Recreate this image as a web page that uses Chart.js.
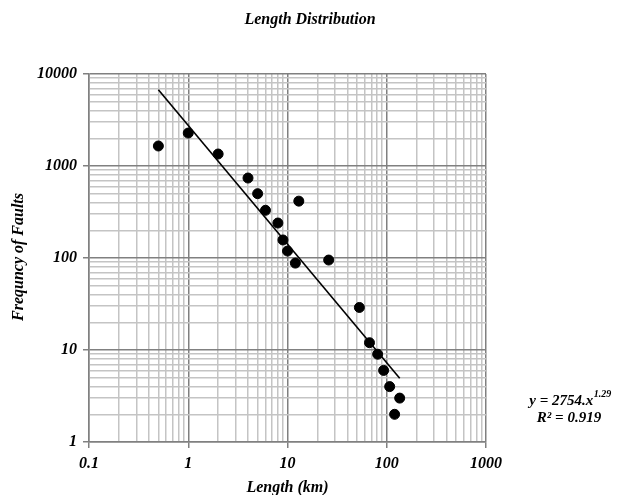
<!DOCTYPE html>
<html>
<head>
<meta charset="utf-8">
<script src="https://cdn.jsdelivr.net/npm/chart.js@4/dist/chart.umd.min.js"></script>
<style>
  html, body { margin: 0; padding: 0; background: #fff; }
  #wrap { width: 622px; height: 495px; position: relative; }
</style>
</head>
<body>
<div id="wrap"><canvas id="c" width="622" height="495"></canvas></div>
<script>
// ---- data ----
const lengthKm = [0.5, 1, 2, 4, 5, 6, 8, 9, 10, 12, 13, 26, 53, 67, 81, 93, 107, 135, 120];
const faultCount = [1650, 2280, 1350, 740, 500, 330, 240, 157, 119, 88, 415, 95, 29, 12, 9, 6, 4, 3, 2];
// power-law trendline endpoints (y = 2754 x^-1.29)
const trendX = [0.5, 135];
const trendY = [6734, 4.92];
const xTickLabels = [0.1, 1, 10, 100, 1000];
const yTickLabels = [1, 10, 100, 1000, 10000];
const titleText = 'Length Distribution';
const xTitle = 'Length (km)';
const yTitle = 'Frequncy of Faults';
const eqLine1 = 'y = 2754.x';
const eqSup = '1.29';
const eqLine2 = 'R\u00B2 = 0.919';

const FONT = '"Liberation Serif", "Times New Roman", serif';
const MAJOR = '#808080', MINOR = '#c4c4c4';

function isMajor(v) {
  const l = Math.log10(v);
  return Math.abs(l - Math.round(l)) < 1e-6;
}
function logTicks(min, max) {
  const out = [];
  for (let e = Math.round(Math.log10(min)); e < Math.round(Math.log10(max)); e++) {
    for (let m = 1; m < 10; m++) out.push({ value: m * Math.pow(10, e) });
  }
  out.push({ value: max });
  return out;
}

const textPlugin = {
  id: 'texts',
  afterDraw(chart) {
    const ctx = chart.ctx;
    const a = chart.chartArea;
    ctx.save();
    ctx.fillStyle = '#000';
    ctx.textBaseline = 'middle';
    ctx.textAlign = 'center';
    ctx.font = 'italic bold 16px ' + FONT;
    ctx.fillText(titleText, 310, 20);
    ctx.font = 'italic bold 16px ' + FONT;
    ctx.fillText(xTitle, (a.left + a.right) / 2, 488);
    ctx.save();
    ctx.translate(19, 257);
    ctx.rotate(-Math.PI / 2);
    ctx.fillText(yTitle, 0, 0);
    ctx.restore();
    // equation
    ctx.font = 'italic bold 15px ' + FONT;
    const w1 = ctx.measureText(eqLine1).width;
    ctx.font = 'italic bold 10px ' + FONT;
    const ws = ctx.measureText(eqSup).width;
    const start = 570 - (w1 + ws) / 2;
    ctx.textAlign = 'left';
    ctx.font = 'italic bold 15px ' + FONT;
    ctx.fillText(eqLine1, start, 401);
    ctx.font = 'italic bold 10px ' + FONT;
    ctx.fillText(eqSup, start + w1 + 0.5, 394);
    ctx.textAlign = 'center';
    ctx.font = 'italic bold 15px ' + FONT;
    ctx.fillText(eqLine2, 569, 418);
    ctx.restore();
  }
};

const points = lengthKm.map((x, i) => ({ x: x, y: faultCount[i] }));
const trend = trendX.map((x, i) => ({ x: x, y: trendY[i] }));

new Chart(document.getElementById('c'), {
  type: 'scatter',
  data: {
    datasets: [
      {
        label: 'Faults',
        data: points,
        backgroundColor: '#000',
        borderColor: '#000',
        pointRadius: 5,
        pointHoverRadius: 5,
        order: 1
      },
      {
        label: 'Trend',
        type: 'line',
        data: trend,
        borderColor: '#000',
        borderWidth: 1.6,
        pointRadius: 0,
        fill: false,
        order: 2
      }
    ]
  },
  options: {
    responsive: false,
    animation: false,
    devicePixelRatio: 1,
    layout: { padding: { left: 0, right: 136, top: 74, bottom: 0 } },
    plugins: {
      legend: { display: false },
      tooltip: { enabled: false },
      title: { display: false }
    },
    scales: {
      x: {
        type: 'logarithmic',
        min: xTickLabels[0],
        max: xTickLabels[xTickLabels.length - 1],
        afterBuildTicks(s) { s.ticks = logTicks(s.min, s.max); },
        afterFit(s) { s.height = 53; },
        border: { display: true, color: MAJOR, width: 1.5 },
        grid: {
          color: c => isMajor(c.tick.value) ? MAJOR : MINOR,
          lineWidth: 1.5,
          tickLength: 6,
          tickColor: c => isMajor(c.tick.value) ? MAJOR : 'rgba(0,0,0,0)',
          drawTicks: true
        },
        ticks: {
          autoSkip: false,
          maxRotation: 0,
          padding: 6,
          color: '#000',
          font: { family: FONT, size: 16, style: 'italic', weight: 'bold' },
          callback: v => (isMajor(v) && xTickLabels.some(t => Math.abs(t - v) / t < 1e-6)) ? String(v) : ''
        }
      },
      y: {
        type: 'logarithmic',
        min: yTickLabels[0],
        max: yTickLabels[yTickLabels.length - 1],
        afterBuildTicks(s) { s.ticks = logTicks(s.min, s.max); },
        afterFit(s) { s.width = 89; },
        border: { display: true, color: MAJOR, width: 1.5 },
        grid: {
          color: c => isMajor(c.tick.value) ? MAJOR : MINOR,
          lineWidth: 1.5,
          tickLength: 6,
          tickColor: c => isMajor(c.tick.value) ? MAJOR : 'rgba(0,0,0,0)',
          drawTicks: true
        },
        ticks: {
          autoSkip: false,
          padding: 6,
          color: '#000',
          font: { family: FONT, size: 16, style: 'italic', weight: 'bold' },
          callback: v => (isMajor(v) && yTickLabels.some(t => Math.abs(t - v) / t < 1e-6)) ? String(v) : ''
        }
      }
    }
  },
  plugins: [textPlugin]
});
</script>
</body>
</html>
